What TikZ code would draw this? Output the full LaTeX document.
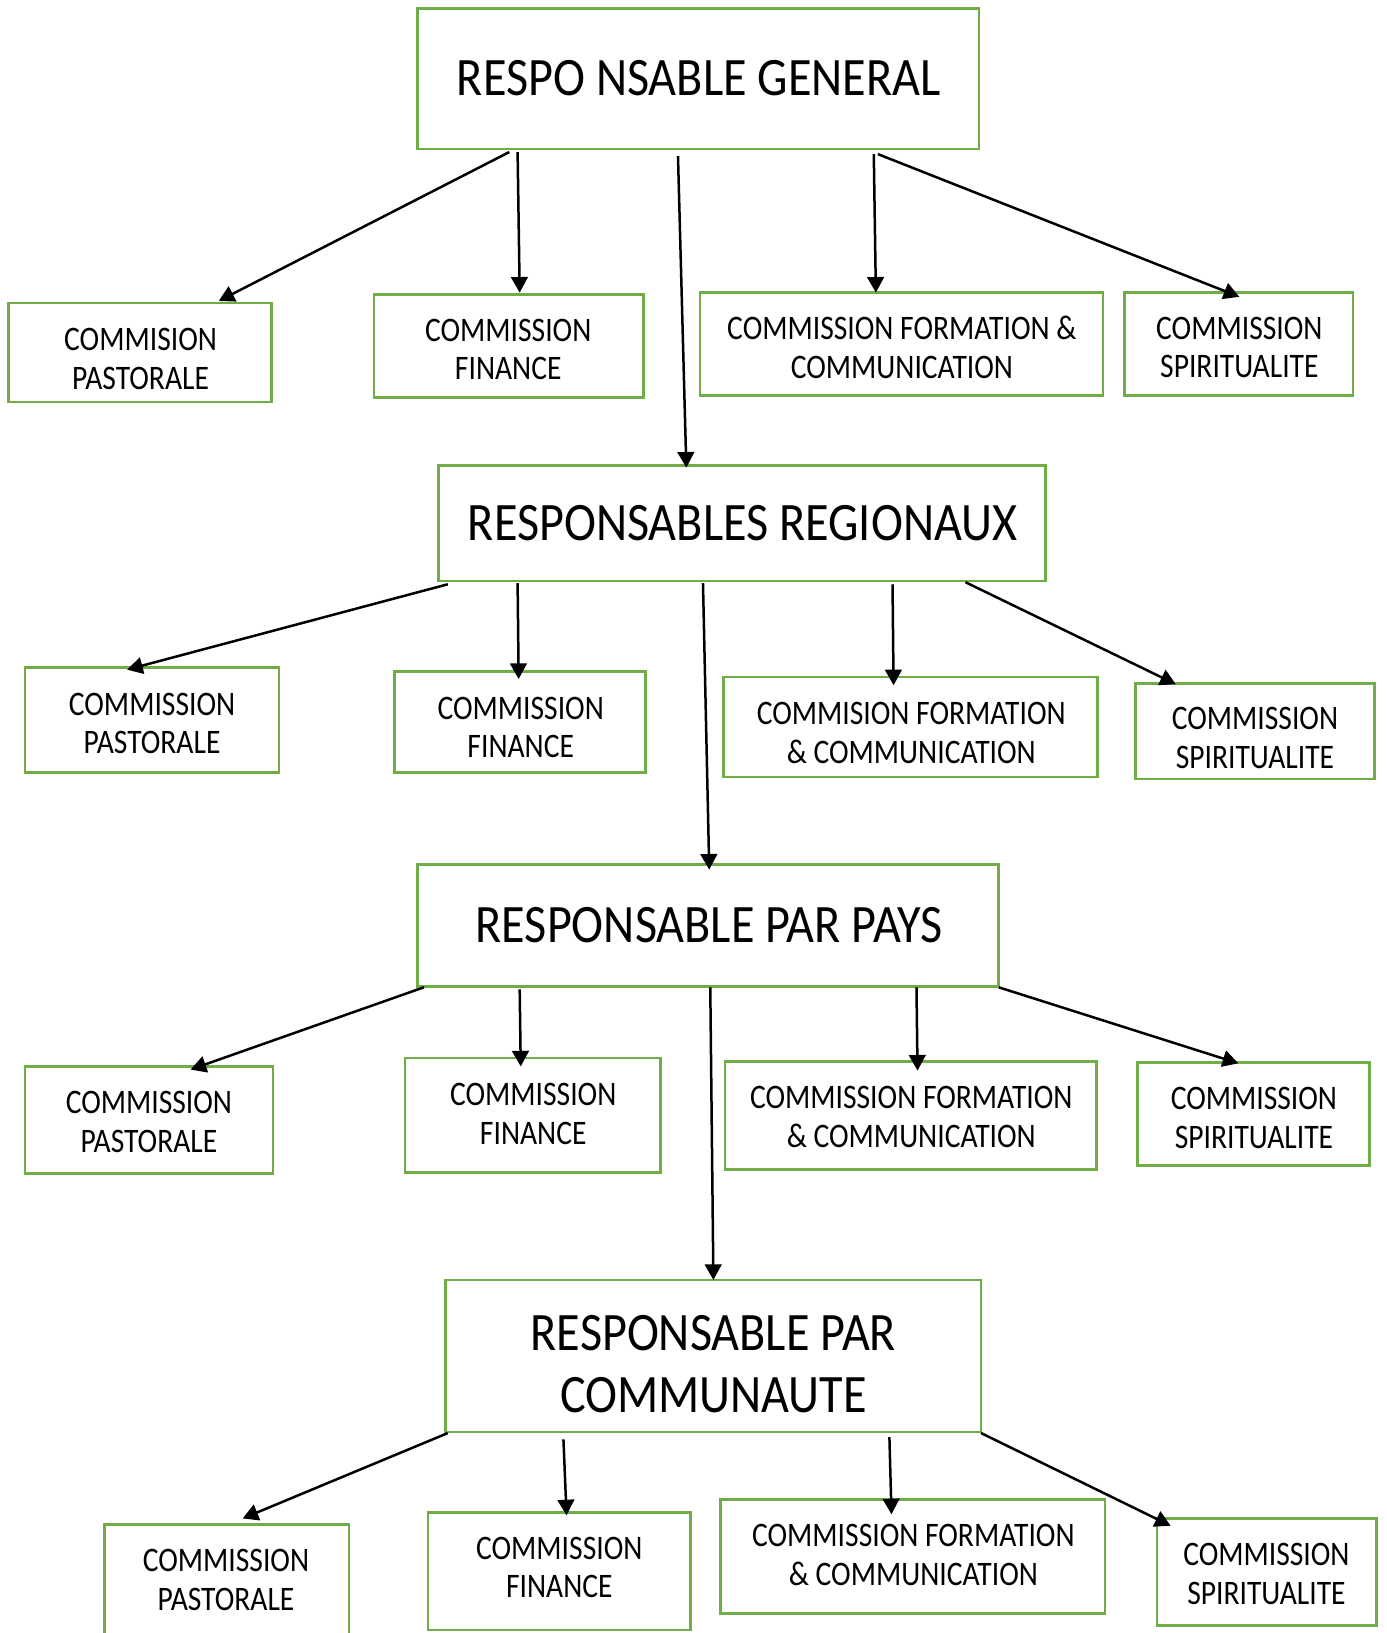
\documentclass[tikz,border=0pt]{standalone}
\usepackage{fontspec}
\setmainfont{Carlito}[FakeStretch=0.86]
\newfontfamily\titlefont{Carlito}[FakeStretch=0.89]
\usetikzlibrary{arrows.meta,calc,fit}
\definecolor{boxgreen}{HTML}{70AD47}
\begin{document}
\begin{tikzpicture}[x=0.5pt,y=-0.5pt,
  box/.style={draw=boxgreen,line width=1.3pt,inner sep=0pt,outer sep=0pt,rectangle},
  ctext/.style={font=\fontsize{16.5}{18.5}\selectfont,align=center,inner sep=0pt},
  ttext/.style={font=\titlefont\fontsize{26}{30}\selectfont,align=center,inner sep=0pt},
  link/.style={line width=1.2pt,-{Triangle[length=7.5pt,width=8pt]}}]
\path[use as bounding box,clip] (0,0) rectangle (1331,1568);
\fill[white] (0,0) rectangle (1331,1568);

% ---- level 1
\node[box,fit={(401,8) (940,143)}] (rg) {};
\node[ttext] at (671,75) {RESPO NSABLE GENERAL};
\node[box,fit={(8,291) (261,386)}] (p1) {};
\node[ctext] at (135,344.5) {COMMISION\\PASTORALE};
\node[box,fit={(359,283) (618,382)}] (f1) {};
\node[ctext] at (488,335.5) {COMMISSION\\FINANCE};
\node[box,fit={(672,281) (1059,380)}] (m1) {};
\node[ctext] at (866,333.5) {COMMISSION FORMATION \&\\COMMUNICATION};
\node[box,fit={(1080,281) (1299,380)}] (s1) {};
\node[ctext] at (1190,333.5) {COMMISSION\\SPIRITUALITE};

% ---- level 2
\node[box,fit={(421,447) (1004,558)}] (reg) {};
\node[ttext] at (713,502) {RESPONSABLES REGIONAUX};
\node[box,fit={(24,641) (268,742)}] (p2) {};
\node[ctext] at (146,694.5) {COMMISSION\\PASTORALE};
\node[box,fit={(379,645) (620,742)}] (f2) {};
\node[ctext] at (500,698.5) {COMMISSION\\FINANCE};
\node[box,fit={(695,650) (1054,746)}] (m2) {};
\node[ctext] at (875,704) {COMMISION FORMATION\\\& COMMUNICATION};
\node[box,fit={(1090,656) (1320,748)}] (s2) {};
\node[ctext] at (1205,708.5) {COMMISSION\\SPIRITUALITE};

% ---- level 3
\node[box,fit={(401,830) (959,947)}] (pays) {};
\node[ttext] at (681,888) {RESPONSABLE PAR PAYS};
\node[box,fit={(24,1024) (262,1127)}] (p3) {};
\node[ctext] at (143,1077.5) {COMMISSION\\PASTORALE};
\node[box,fit={(389,1016) (634,1126)}] (f3) {};
\node[ctext] at (512,1069.5) {COMMISSION\\FINANCE};
\node[box,fit={(696,1019) (1053,1123)}] (m3) {};
\node[ctext] at (875,1072.5) {COMMISSION FORMATION\\\& COMMUNICATION};
\node[box,fit={(1092,1020) (1315,1119)}] (s3) {};
\node[ctext] at (1204,1073.5) {COMMISSION\\SPIRITUALITE};

% ---- level 4
\node[box,fit={(428,1229) (942,1375)}] (com) {};
\node[ttext] at (685,1310) {RESPONSABLE PAR\\COMMUNAUTE};
\node[box,fit={(100,1464) (335,1600)}] (p4) {};
\node[ctext] at (217,1517) {COMMISSION\\PASTORALE};
\node[box,fit={(411,1452) (663,1565)}] (f4) {};
\node[ctext] at (537,1505) {COMMISSION\\FINANCE};
\node[box,fit={(692,1440) (1061,1549)}] (m4) {};
\node[ctext] at (877,1493) {COMMISSION FORMATION\\\& COMMUNICATION};
\node[box,fit={(1111,1458) (1322,1561)}] (s4) {};
\node[ctext] at (1216,1511.5) {COMMISSION\\SPIRITUALITE};

% ---- connectors
\draw[link] ($(rg.south west)+(88,3)$) -- ($(p1.north west)+(202,-2)$);
\draw[link] ($(rg.south west)+(96,3)$) -- ($(f1.north west)+(140,-2)$);
\draw[link] ($(rg.south west)+(250,7)$) -- ($(reg.north west)+(238,2)$);
\draw[link] ($(rg.south west)+(438,5)$) -- ($(m1.north west)+(169,0)$);
\draw[link] ($(rg.south west)+(442,5)$) -- ($(s1.north west)+(110,4)$);

\draw[link] ($(reg.south west)+(9,3)$) -- ($(p2.north west)+(98,2)$);
\draw[link] ($(reg.south west)+(76,2)$) -- ($(f2.north west)+(119,7)$);
\draw[link] ($(reg.south west)+(254,2)$) -- ($(pays.north west)+(280,5)$);
\draw[link] ($(reg.south west)+(436,3)$) -- ($(m2.north west)+(163,8)$);
\draw[link] ($(reg.south west)+(506,1)$) -- ($(s2.north west)+(39,1)$);

\draw[link] ($(pays.south west)+(6,1)$) -- ($(p3.north west)+(159,3)$);
\draw[link] ($(pays.south west)+(98,3)$) -- ($(f3.north west)+(111,8)$);
\draw[link] ($(pays.south west)+(281,1)$) -- ($(com.north west)+(257,0)$);
\draw[link] ($(pays.south west)+(479,1)$) -- ($(m3.north west)+(185,9)$);
\draw[link] ($(pays.south west)+(558,1)$) -- ($(s3.north west)+(97,1)$);

\draw[link] ($(com.south west)+(2,1)$) -- ($(p4.north west)+(133,-6)$);
\draw[link] ($(com.south west)+(113,7)$) -- ($(f4.north west)+(133,3)$);
\draw[link] ($(com.south west)+(426,5)$) -- ($(m4.north west)+(164,14)$);
\draw[link] ($(com.south west)+(514,1)$) -- ($(s4.north west)+(13,7)$);
\end{tikzpicture}
\end{document}
